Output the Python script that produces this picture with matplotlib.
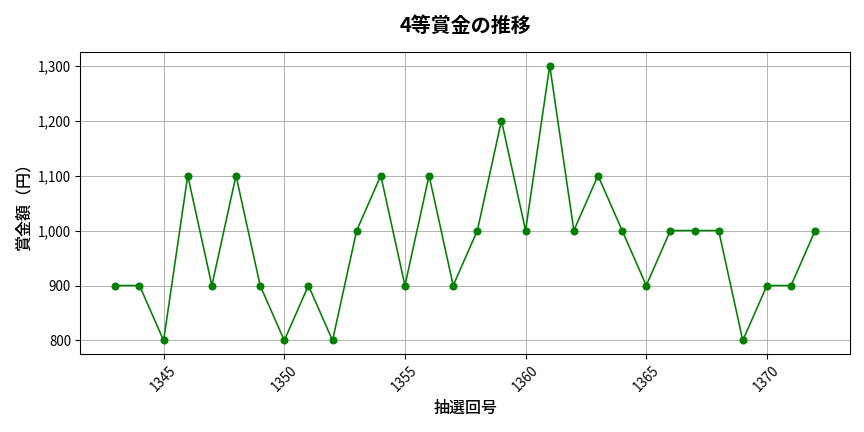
import matplotlib
matplotlib.use("Agg")
import matplotlib.pyplot as plt
import matplotlib.ticker as ticker

plt.rcParams["font.family"] = ["Noto Sans CJK JP", "DejaVu Sans"]

draw_no = list(range(1343, 1373))
prize = [
    900, 900, 800, 1100, 900, 1100, 900, 800, 900, 800,
    1000, 1100, 900, 1100, 900, 1000, 1200, 1000, 1300, 1000,
    1100, 1000, 900, 1000, 1000, 1000, 800, 900, 900, 1000,
]

fig, ax = plt.subplots(figsize=(9, 4.5), dpi=96)
ax.plot(draw_no, prize, color="green", marker="o", markersize=5, linewidth=1.2)
ax.set_title("4等賞金の推移", fontsize=15, fontweight="bold", pad=15)
ax.set_xlabel("抽選回号", fontsize=12, fontweight="medium")
ax.set_ylabel("賞金額（円）", fontsize=12, fontweight="medium")
ax.yaxis.set_major_formatter(ticker.FuncFormatter(lambda v, p: f"{int(v):,}"))
ax.tick_params(axis="x", rotation=45)
ax.grid(True, color="#b0b0b0", linewidth=0.7)
fig.subplots_adjust(left=0.093, right=0.984, top=0.88, bottom=0.18)
fig.savefig("out.png", dpi=96)
